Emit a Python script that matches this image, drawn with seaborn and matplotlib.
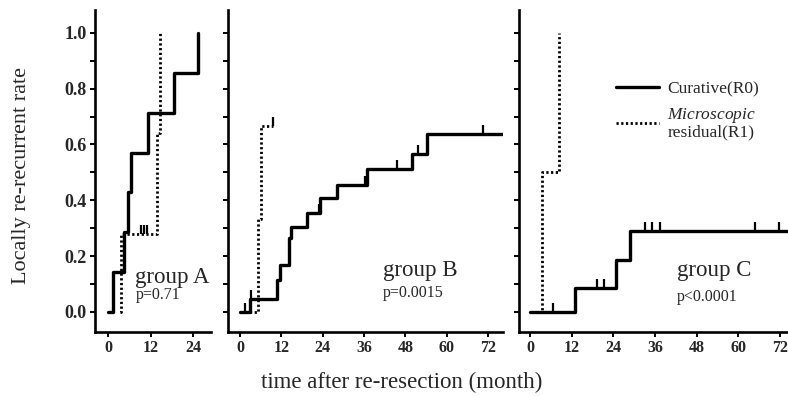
import matplotlib
matplotlib.use("Agg")
import matplotlib.pyplot as plt
from matplotlib.ticker import MultipleLocator
import seaborn as sns
import pandas as pd

# ---------------- data ----------------
a_r0_time = [0, 1.2, 4.3, 5.4, 6.4, 11.1, 18.4, 25.2]
a_r0_rate = [0, 0.143, 0.286, 0.429, 0.571, 0.714, 0.857, 1.0]
a_r1_time = [3.4, 3.6, 13.8, 14.5]
a_r1_rate = [0, 0.28, 0.64, 1.0]
a_r1_cens_time = [9.2, 10.0, 10.8]
a_r1_cens_rate = [0.28, 0.28, 0.28]

b_r0_time = [0, 2.9, 10.6, 11.6, 14.3, 14.7, 19.5, 23.2, 28.0, 36.7, 49.8, 54.3, 76.3]
b_r0_rate = [0, 0.048, 0.114, 0.168, 0.264, 0.305, 0.353, 0.407, 0.455, 0.511, 0.565, 0.638, 0.638]
b_r0_cens_time = [1.4, 3.2, 22.8, 36.3, 45.6, 51.5, 70.4]
b_r0_cens_rate = [0, 0.048, 0.353, 0.455, 0.511, 0.565, 0.638]
b_r1_time = [0, 5.3, 6.0, 9.7]
b_r1_rate = [0, 0.333, 0.667, 0.667]
b_r1_cens_time = [9.7]
b_r1_cens_rate = [0.667]

c_r0_time = [0, 13.0, 24.7, 28.8, 74.3]
c_r0_rate = [0, 0.084, 0.186, 0.29, 0.29]
c_r0_cens_time = [6.7, 19.2, 21.3, 33.1, 35.0, 37.4, 64.8, 71.8]
c_r0_cens_rate = [0, 0.084, 0.084, 0.29, 0.29, 0.29, 0.29, 0.29]
c_r1_time = [0, 3.5, 8.2]
c_r1_rate = [0, 0.5, 1.0]

group_labels = ["group A", "group B", "group C"]
p_labels = ["p=0.71", "p=0.0015", "p<0.0001"]
series_labels = ["Curative(R0)", "$\\it{Microscopic}$\nresidual(R1)"]
y_ticks = [0.0, 0.2, 0.4, 0.6, 0.8, 1.0]
x_ticks_a = [0, 12, 24]
x_ticks_bc = [0, 12, 24, 36, 48, 60, 72]
y_label = "Locally re-recurrent rate"
x_label = "time after re-resection (month)"

# ---------------- style ----------------
sns.set_theme(style="ticks")
plt.rcParams["font.family"] = ["Liberation Serif", "DejaVu Serif"]
plt.rcParams["mathtext.fontset"] = "custom"
plt.rcParams["mathtext.it"] = "Liberation Serif:italic"
plt.rcParams["mathtext.rm"] = "Liberation Serif"

W, H = 788, 396
fig = plt.figure(figsize=(W / 100, H / 100), dpi=100)
fig.patch.set_facecolor("white")

def frac(l, r, top=10, bot=332):
    return [l / W, (H - bot) / H, (r - l) / W, (bot - top) / H]

axA = fig.add_axes(frac(95, 211))
axB = fig.add_axes(frac(228, 503))
axC = fig.add_axes(frac(519, 788))

xlims = [(-3.8, 29.0), (-3.5, 76.3), (-3.2, 74.3)]
solid_lw = 2.4
dot_ls = (0, (0.8, 0.9))

panels = [
    (axA, a_r0_time, a_r0_rate, a_r1_time, a_r1_rate,
     [], [], a_r1_cens_time, a_r1_cens_rate, x_ticks_a),
    (axB, b_r0_time, b_r0_rate, b_r1_time, b_r1_rate,
     b_r0_cens_time, b_r0_cens_rate, b_r1_cens_time, b_r1_cens_rate, x_ticks_bc),
    (axC, c_r0_time, c_r0_rate, c_r1_time, c_r1_rate,
     c_r0_cens_time, c_r0_cens_rate, [], [], x_ticks_bc),
]

text_pos = [((7.6, 0.125), (7.6, 0.06)),
            ((41.5, 0.15), (41.5, 0.067)),
            ((42.3, 0.15), (42.3, 0.053))]

for i, (ax, t0, r0, t1, r1, ct0, cr0, ct1, cr1, xt) in enumerate(panels):
    d0 = pd.DataFrame({"t": t0, "r": r0})
    d1 = pd.DataFrame({"t": t1, "r": r1})
    sns.lineplot(data=d1, x="t", y="r", ax=ax, color="black", estimator=None,
                 drawstyle="steps-post", linewidth=2.0, linestyle=dot_ls,
                 label=series_labels[1] if i == 2 else None, legend=False)
    sns.lineplot(data=d0, x="t", y="r", ax=ax, color="black", estimator=None,
                 drawstyle="steps-post", linewidth=solid_lw,
                 label=series_labels[0] if i == 2 else None, legend=False)
    for ct, cr in ((ct0, cr0), (ct1, cr1)):
        if len(ct):
            sns.scatterplot(x=ct, y=cr, ax=ax, marker=2, s=40, color="black",
                            linewidth=1.6, legend=False)
    ax.set_xlim(*xlims[i])
    ax.set_ylim(-0.072, 1.082)
    ax.set_xticks(xt)
    ax.set_yticks(y_ticks)
    ax.yaxis.set_minor_locator(MultipleLocator(0.1))
    ax.set_xlabel("")
    ax.set_ylabel("")
    for s in ("top", "right"):
        ax.spines[s].set_visible(False)
    for s in ("left", "bottom"):
        ax.spines[s].set_linewidth(1.9)
        ax.spines[s].set_color("black")
    ax.tick_params(axis="both", which="both", direction="out", length=3.8,
                   width=1.4, color="black", pad=2)
    ax.tick_params(axis="x", labelsize=11.5)
    ax.tick_params(axis="y", labelsize=13)
    for lab in ax.get_xticklabels() + ax.get_yticklabels():
        lab.set_fontweight("bold")
    if i > 0:
        ax.set_yticklabels([])
    else:
        ax.set_yticklabels([f"{v:.1f}" for v in y_ticks])
    (gx, gy), (px, py) = text_pos[i]
    ax.text(gx, gy, group_labels[i], fontsize=16.5, ha="left", va="center")
    ax.text(px, py, p_labels[i], fontsize=11.5, ha="left", va="center")
    ax.set_facecolor("white")

# legend in panel C
handles, labels = axC.get_legend_handles_labels()
order = [labels.index(series_labels[0]), labels.index(series_labels[1])]
leg = axC.legend([handles[k] for k in order], [labels[k] for k in order],
                 loc="upper left", bbox_to_anchor=(0.359, 0.78), frameon=False,
                 fontsize=12.5, handlelength=2.5, handletextpad=0.45,
                 borderpad=0, borderaxespad=0, labelspacing=0.5)
for t in leg.get_texts():
    t.set_multialignment("center")
    t.set_linespacing(1.0)

fig.text(22 / W, (H - 175) / H, y_label, rotation=90, ha="center", va="center",
         fontsize=16)
fig.text(402 / W, (H - 382) / H, x_label, ha="center", va="center", fontsize=16.5)

fig.savefig("out.png", dpi=100, facecolor="white")
